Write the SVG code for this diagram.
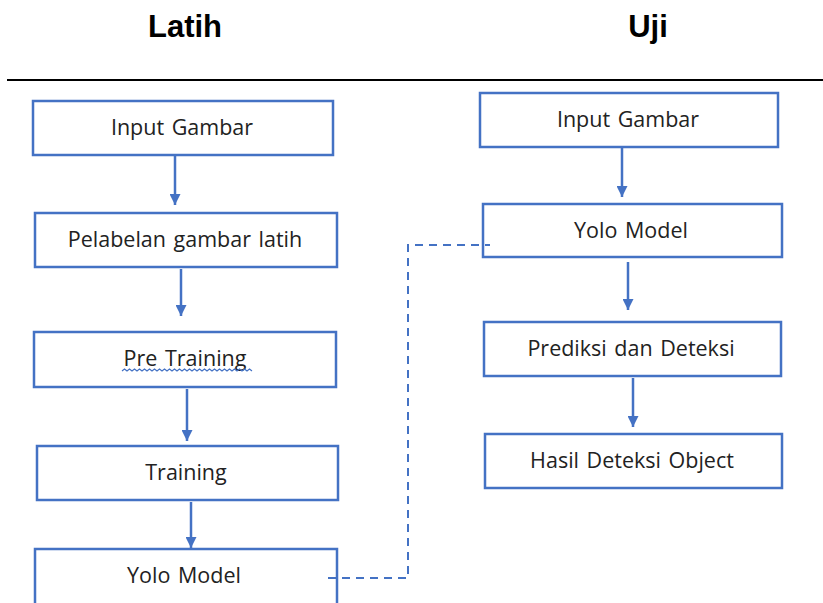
<svg xmlns="http://www.w3.org/2000/svg" width="823" height="603" viewBox="0 0 823 603">
<style>
.box{fill:#fff;stroke:#4472C4;stroke-width:2.5}
.lbl{font-family:"Open Sans","Noto Sans",sans-serif;font-size:21.5px;word-spacing:2px;fill:#222;text-anchor:middle}
.hdr{font-family:"Liberation Sans",Arial,sans-serif;font-size:31px;font-weight:bold;fill:#000;text-anchor:middle}
.arr{stroke:#4472C4;stroke-width:2.5;fill:none;marker-end:url(#ah)}
.dash{stroke:#4472C4;stroke-width:2;fill:none;stroke-dasharray:8 6}
</style>
<defs>
<marker id="ah" viewBox="0 0 10 10" refX="10" refY="5" markerWidth="4.4" markerHeight="4.4" orient="auto" markerUnits="strokeWidth">
<path d="M0,0 L10,5 L0,10 z" fill="#4472C4"/>
</marker>
</defs>
<rect width="823" height="603" fill="#fff"/>
<text class="hdr" x="185" y="37">Latih</text>
<text class="hdr" x="648" y="37">Uji</text>
<line x1="7" y1="80" x2="823" y2="80" stroke="#000" stroke-width="2"/>
<g id="l-input"><rect class="box" x="33" y="101" width="300" height="54"/><text class="lbl" x="182" y="135">Input Gambar</text></g>
<g id="l-label"><rect class="box" x="35" y="213" width="302" height="54"/><text class="lbl" x="185" y="247">Pelabelan gambar latih</text></g>
<g id="l-pre"><rect class="box" x="34" y="332" width="302" height="55"/><text class="lbl" x="185" y="366">Pre Training</text>
<path d="M122,371 l2.5,-2 l2.5,2 l2.5,-2 l2.5,2 l2.5,-2 l2.5,2 l2.5,-2 l2.5,2 l2.5,-2 l2.5,2 l2.5,-2 l2.5,2 l2.5,-2 l2.5,2 l2.5,-2 l2.5,2 l2.5,-2 l2.5,2 l2.5,-2 l2.5,2 l2.5,-2 l2.5,2 l2.5,-2 l2.5,2 l2.5,-2 l2.5,2 l2.5,-2 l2.5,2 l2.5,-2 l2.5,2 l2.5,-2 l2.5,2 l2.5,-2 l2.5,2 l2.5,-2 l2.5,2 l2.5,-2 l2.5,2 l2.5,-2 l2.5,2 l2.5,-2 l2.5,2 l2.5,-2 l2.5,2 l2.5,-2 l2.5,2 l2.5,-2 l2.5,2 l2.5,-2 l2.5,2 l2.5,-2 l2.5,2" fill="none" stroke="#4472C4" stroke-width="1.2"/></g>
<g id="l-train"><rect class="box" x="37" y="446" width="301" height="54"/><text class="lbl" x="186" y="480">Training</text></g>
<g id="l-yolo"><rect class="box" x="35" y="549" width="302" height="56"/><text class="lbl" x="184" y="583">Yolo Model</text></g>
<g id="r-input"><rect class="box" x="480" y="93" width="298" height="54"/><text class="lbl" x="628" y="127">Input Gambar</text></g>
<g id="r-yolo"><rect class="box" x="483" y="204" width="299" height="53"/><text class="lbl" x="631" y="238">Yolo Model</text></g>
<g id="r-pred"><rect class="box" x="484" y="322" width="297" height="54"/><text class="lbl" x="631" y="356">Prediksi dan Deteksi</text></g>
<g id="r-hasil"><rect class="box" x="485" y="434" width="297" height="54"/><text class="lbl" x="632" y="468">Hasil Deteksi Object</text></g>
<g id="connectors">
<line class="arr" x1="175" y1="156" x2="175" y2="205"/>
<line class="arr" x1="181" y1="269" x2="181" y2="316"/>
<line class="arr" x1="187" y1="389" x2="187" y2="441"/>
<line class="arr" x1="191" y1="502" x2="191" y2="548"/>
<line class="arr" x1="622" y1="148" x2="622" y2="197"/>
<line class="arr" x1="628" y1="262" x2="628" y2="310"/>
<line class="arr" x1="633" y1="378" x2="633" y2="427"/>
<path class="dash" d="M328,578 H408 V245 H490"/>
</g>
</svg>
